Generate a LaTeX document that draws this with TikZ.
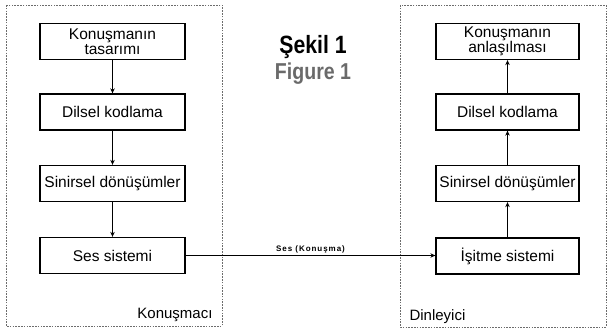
\documentclass[tikz,border=0pt]{standalone}
\usepackage{fontspec}
\setmainfont{Liberation Sans}
\newfontfamily\titlefont[FakeStretch=0.85]{Liberation Sans}
\usetikzlibrary{arrows.meta}
\definecolor{figgray}{HTML}{6A6A6A}
\tikzset{
  stagebox/.style={draw=black, line width=1.3pt, fill=white, minimum width=145pt, minimum height=36pt, inner sep=1pt, align=center, font=\fontsize{15.5}{16}\selectfont},
  framebox/.style={draw=gray!85!black, line width=0.9pt, dash pattern=on 1.6pt off 1.2pt},
  flow/.style={line width=1.2pt, -{Stealth[length=5pt,width=4.5pt]}},
  caption/.style={font=\fontsize{15}{16}\selectfont}
}
\begin{document}
\begin{tikzpicture}[x=1pt,y=-1pt]
\useasboundingbox (0,0) rectangle (609,331);
% frames
\draw[framebox] (6,5) rectangle (222,326);
\draw[framebox] (400,5) rectangle (606,327);
% titles
\node[font=\titlefont\bfseries\fontsize{25}{26}\selectfont] (t1) at (313,47) {Şekil 1};
\node[font=\titlefont\bfseries\fontsize{23}{26}\selectfont, text=figgray] (t2) at (313,74) {Figure 1};
% left column
\node[stagebox] (l1) at (112.5,41.5) {Konuşmanın\\[-1pt]tasarımı};
\node[stagebox] (l2) at (112.5,112) {Dilsel kodlama};
\node[stagebox] (l3) at (112.5,183.5) {Sinirsel dönüşümler};
\node[stagebox] (l4) at (112.5,255.5) {Ses sistemi};
% right column
\node[stagebox, minimum width=143pt] (r1) at (507.5,41.5) {Konuşmanın\\[-1pt]anlaşılması};
\node[stagebox, minimum width=143pt] (r2) at (507.5,112) {Dilsel kodlama};
\node[stagebox, minimum width=143pt] (r3) at (507.5,183.5) {Sinirsel dönüşümler};
\node[stagebox, minimum width=143pt] (r4) at (507.5,256) {İşitme sistemi};
% arrows
\draw[flow] (l1) -- (l2);
\draw[flow] (l2) -- (l3);
\draw[flow] (l3) -- (l4);
\draw[flow] (r4) -- (r3);
\draw[flow] (r3) -- (r2);
\draw[flow] (r2) -- (r1);
\draw[flow] (l4.east) -- node[above, font=\bfseries\addfontfeature{LetterSpace=12}\fontsize{8}{9}\selectfont, inner sep=2pt] {Ses (Konuşma)} (r4.west |- l4.east);
% labels
\node[caption, anchor=east] (sp) at (216,315) {Konuşmacı};
\node[caption, anchor=west] (ls) at (406,317) {Dinleyici};
\end{tikzpicture}
\end{document}
